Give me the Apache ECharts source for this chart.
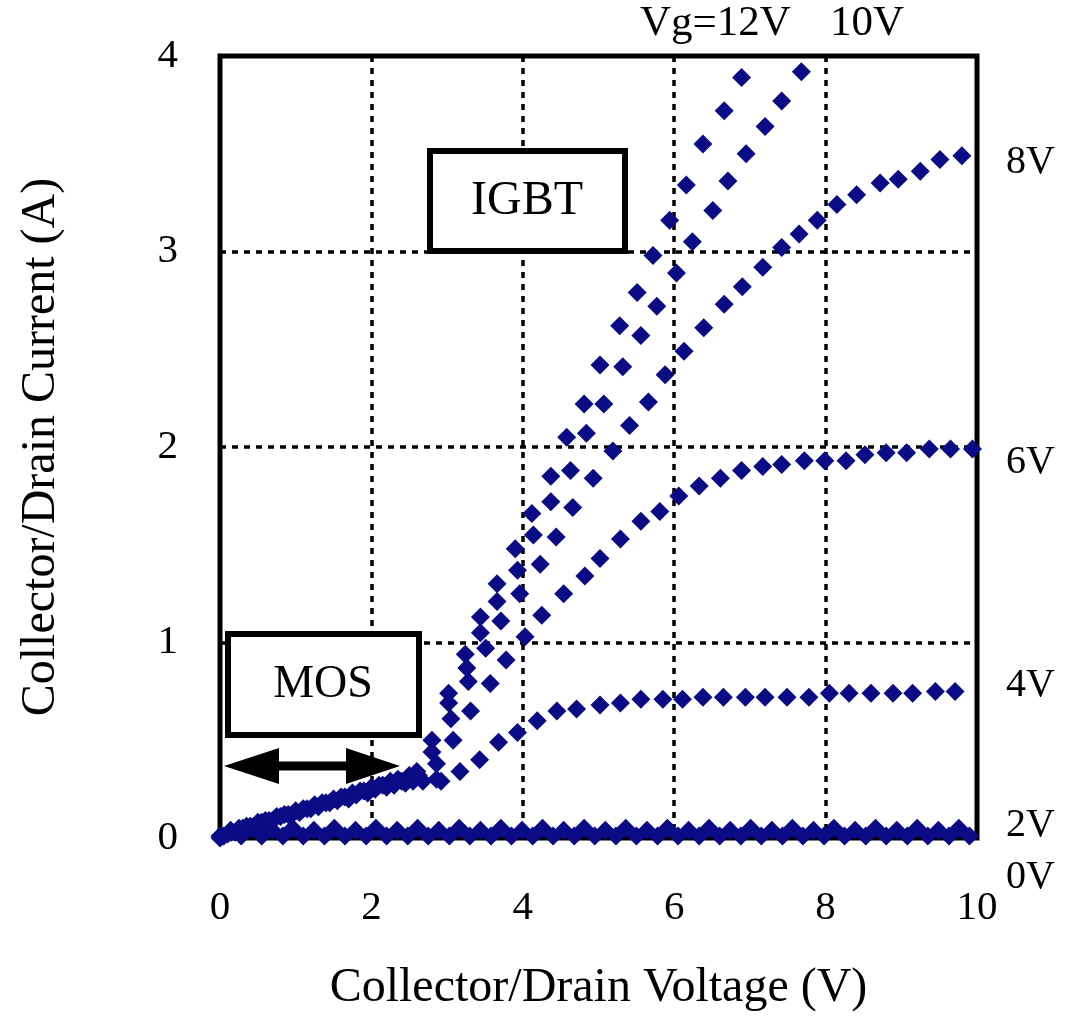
<!DOCTYPE html>
<html>
<head>
<meta charset="utf-8">
<script src="https://cdn.jsdelivr.net/npm/echarts@6/dist/echarts.min.js"></script>
<style>
html,body{margin:0;padding:0;background:#fff;}
#chart{width:1077px;height:1017px;}
</style>
</head>
<body>
<div id="chart"></div>
<script>
// gate voltage curves, [Vce, Ic]
var vg0 = [[0.00,0.01],[0.28,0.01],[0.55,0.01],[0.83,0.01],[1.10,0.01],[1.38,0.01],[1.65,0.01],[1.93,0.01],[2.20,0.01],[2.48,0.01],[2.75,0.01],[3.03,0.01],[3.30,0.01],[3.58,0.01],[3.85,0.01],[4.13,0.01],[4.40,0.01],[4.68,0.01],[4.95,0.01],[5.23,0.01],[5.50,0.01],[5.78,0.01],[6.05,0.01],[6.33,0.01],[6.60,0.01],[6.88,0.01],[7.15,0.01],[7.43,0.01],[7.70,0.01],[7.98,0.01],[8.25,0.01],[8.53,0.01],[8.80,0.01],[9.08,0.01],[9.35,0.01],[9.63,0.01],[9.90,0.01]];
var vg2 = [[0.14,0.04],[0.41,0.05],[0.69,0.04],[0.96,0.05],[1.24,0.04],[1.51,0.05],[1.79,0.04],[2.06,0.05],[2.34,0.04],[2.61,0.05],[2.89,0.04],[3.16,0.05],[3.44,0.04],[3.71,0.05],[3.99,0.04],[4.26,0.05],[4.54,0.04],[4.81,0.05],[5.09,0.04],[5.36,0.05],[5.64,0.04],[5.91,0.05],[6.19,0.04],[6.46,0.05],[6.74,0.04],[7.01,0.05],[7.29,0.04],[7.56,0.05],[7.84,0.04],[8.11,0.05],[8.39,0.04],[8.66,0.05],[8.94,0.04],[9.21,0.05],[9.49,0.04],[9.76,0.05]];
var vg4 = [[0.20,0.03],[0.45,0.06],[0.70,0.09],[0.95,0.12],[1.20,0.15],[1.45,0.18],[1.70,0.20],[1.95,0.23],[2.20,0.26],[2.45,0.28],[2.68,0.29],[2.92,0.29],[3.17,0.34],[3.43,0.40],[3.68,0.49],[3.93,0.54],[4.19,0.60],[4.45,0.65],[4.71,0.66],[5.02,0.68],[5.29,0.69],[5.56,0.71],[5.85,0.71],[6.11,0.71],[6.38,0.72],[6.65,0.72],[6.94,0.72],[7.20,0.72],[7.49,0.72],[7.78,0.72],[8.05,0.74],[8.31,0.74],[8.60,0.74],[8.89,0.74],[9.15,0.74],[9.45,0.75],[9.71,0.75]];
var vg6 = [[0.05,0.01],[0.30,0.05],[0.55,0.08],[0.80,0.11],[1.05,0.13],[1.30,0.16],[1.55,0.19],[1.80,0.22],[2.05,0.25],[2.30,0.27],[2.55,0.29],[2.86,0.30],[3.08,0.50],[3.31,0.65],[3.57,0.79],[3.78,0.91],[4.03,1.03],[4.25,1.14],[4.54,1.25],[4.82,1.34],[5.02,1.43],[5.29,1.53],[5.56,1.62],[5.81,1.67],[6.06,1.75],[6.33,1.80],[6.61,1.84],[6.89,1.88],[7.17,1.90],[7.42,1.91],[7.72,1.93],[7.99,1.93],[8.27,1.93],[8.52,1.96],[8.80,1.97],[9.07,1.97],[9.37,1.99],[9.65,1.99],[9.94,1.99]];
var vg8 = [[0.15,0.03],[0.40,0.06],[0.65,0.09],[0.90,0.12],[1.15,0.15],[1.40,0.18],[1.65,0.21],[1.90,0.24],[2.15,0.27],[2.40,0.29],[2.62,0.32],[2.86,0.38],[3.05,0.61],[3.28,0.80],[3.51,0.97],[3.71,1.11],[3.96,1.25],[4.23,1.40],[4.44,1.54],[4.66,1.69],[4.93,1.84],[5.19,1.98],[5.41,2.11],[5.66,2.23],[5.88,2.37],[6.13,2.49],[6.39,2.61],[6.66,2.73],[6.90,2.82],[7.17,2.92],[7.42,3.02],[7.65,3.09],[7.89,3.16],[8.15,3.24],[8.41,3.29],[8.72,3.35],[8.96,3.37],[9.25,3.41],[9.51,3.47],[9.80,3.49]];
var vg10 = [[0.00,0.00],[0.25,0.05],[0.50,0.08],[0.75,0.11],[1.00,0.14],[1.25,0.17],[1.50,0.20],[1.75,0.23],[2.00,0.26],[2.25,0.29],[2.50,0.32],[2.80,0.44],[3.02,0.69],[3.26,0.87],[3.44,1.05],[3.66,1.21],[3.93,1.37],[4.14,1.55],[4.37,1.72],[4.63,1.88],[4.84,2.07],[5.07,2.22],[5.32,2.41],[5.56,2.57],[5.77,2.72],[6.03,2.89],[6.24,3.05],[6.51,3.21],[6.71,3.36],[6.95,3.50],[7.20,3.64],[7.42,3.77],[7.68,3.92]];
var vg12 = [[0.10,0.02],[0.35,0.06],[0.60,0.09],[0.85,0.12],[1.10,0.15],[1.35,0.18],[1.60,0.21],[1.85,0.24],[2.10,0.27],[2.35,0.30],[2.60,0.34],[2.80,0.50],[3.02,0.74],[3.24,0.94],[3.44,1.13],[3.66,1.30],[3.90,1.48],[4.12,1.66],[4.37,1.85],[4.58,2.05],[4.81,2.22],[5.02,2.42],[5.28,2.62],[5.51,2.79],[5.72,2.98],[5.94,3.16],[6.16,3.34],[6.38,3.55],[6.66,3.72],[6.89,3.89]];

var seriesNames = ['0V','2V','4V','6V','8V','10V','12V'];
var seriesData = [vg0, vg2, vg4, vg6, vg8, vg10, vg12];

var FONT = '"Liberation Serif","Times New Roman",serif';
var MARK = '#0b0b86';

var myChart = echarts.init(document.getElementById('chart'));

var series = [];
for (var i = 0; i < seriesData.length; i++) {
	series.push({
		name: seriesNames[i],
		type: 'scatter',
		symbol: 'diamond',
		symbolSize: 19,
		itemStyle: {color: MARK, opacity: 1},
		data: seriesData[i],
		z: 3
	});
}

var gridLine = {show: true, lineStyle: {color: '#000', width: 3.5, type: [6, 6]}};

var option = {
	animation: false,
	backgroundColor: '#fff',
	grid: {left: 220, right: 100, top: 56, bottom: 177, show: true, borderWidth: 5, borderColor: '#000'},
	xAxis: {
		type: 'value', min: 0, max: 10, interval: 2,
		name: 'Collector/Drain Voltage (V)', nameLocation: 'middle', nameGap: 126,
		nameTextStyle: {fontFamily: FONT, fontSize: 48, color: '#000'},
		axisLine: {show: false}, axisTick: {show: false},
		axisLabel: {fontFamily: FONT, fontSize: 41, color: '#000', margin: 50},
		splitLine: gridLine
	},
	yAxis: {
		type: 'value', min: 0, max: 4, interval: 1,
		name: 'Collector/Drain Current (A)', nameLocation: 'middle', nameGap: 155,
		nameTextStyle: {fontFamily: FONT, fontSize: 48, color: '#000'},
		axisLine: {show: false}, axisTick: {show: false},
		axisLabel: {fontFamily: FONT, fontSize: 41, color: '#000', margin: 42},
		splitLine: gridLine
	},
	series: series,
	graphic: [
		{type: 'rect', z: 100, shape: {x: 430, y: 151, width: 195, height: 100}, style: {fill: '#fff', stroke: '#000', lineWidth: 6}},
		{type: 'text', z: 101, x: 527, y: 201, style: {text: 'IGBT', font: '48px ' + FONT, fill: '#000', textAlign: 'center', textVerticalAlign: 'middle'}},
		{type: 'rect', z: 100, shape: {x: 228, y: 634, width: 191, height: 101}, style: {fill: '#fff', stroke: '#000', lineWidth: 6}},
		{type: 'text', z: 101, x: 323, y: 685, style: {text: 'MOS', font: '46px ' + FONT, fill: '#000', textAlign: 'center', textVerticalAlign: 'middle'}},
		{type: 'line', z: 100, shape: {x1: 260, y1: 766, x2: 360, y2: 766}, style: {stroke: '#000', lineWidth: 9}},
		{type: 'polygon', z: 100, shape: {points: [[224, 766], [279, 748], [279, 784]]}, style: {fill: '#000'}},
		{type: 'polygon', z: 100, shape: {points: [[400, 766], [346, 748], [346, 784]]}, style: {fill: '#000'}},
		{type: 'text', z: 101, x: 640, y: 24, style: {text: 'Vg=12V', font: '43px ' + FONT, fill: '#000', textVerticalAlign: 'middle'}},
		{type: 'text', z: 101, x: 830, y: 24, style: {text: '10V', font: '43px ' + FONT, fill: '#000', textVerticalAlign: 'middle'}},
		{type: 'text', z: 101, x: 1006, y: 162, style: {text: '8V', font: '40px ' + FONT, fill: '#000', textVerticalAlign: 'middle'}},
		{type: 'text', z: 101, x: 1006, y: 462, style: {text: '6V', font: '40px ' + FONT, fill: '#000', textVerticalAlign: 'middle'}},
		{type: 'text', z: 101, x: 1006, y: 685, style: {text: '4V', font: '40px ' + FONT, fill: '#000', textVerticalAlign: 'middle'}},
		{type: 'text', z: 101, x: 1006, y: 825, style: {text: '2V', font: '40px ' + FONT, fill: '#000', textVerticalAlign: 'middle'}},
		{type: 'text', z: 101, x: 1006, y: 877, style: {text: '0V', font: '40px ' + FONT, fill: '#000', textVerticalAlign: 'middle'}}
	]
};
myChart.setOption(option);
</script>
</body>
</html>
